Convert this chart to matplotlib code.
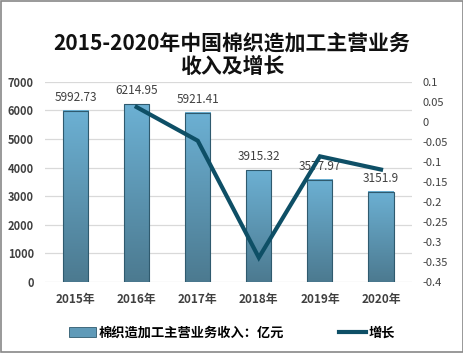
import numpy as np
import matplotlib.pyplot as plt
from matplotlib.patches import Rectangle
from matplotlib.lines import Line2D
from matplotlib.colors import LinearSegmentedColormap

plt.rcParams['font.family'] = ['Noto Sans CJK SC', 'DejaVu Sans']

years = ['2015年', '2016年', '2017年', '2018年', '2019年', '2020年']
revenue = [5992.73, 6214.95, 5921.41, 3915.32, 3577.97, 3151.9]
growth = [None, 0.037, -0.047, -0.339, -0.086, -0.119]

fig = plt.figure(figsize=(4.64, 3.53), dpi=100)
fig.patches.append(Rectangle((0.003, 0.003), 0.994, 0.994, transform=fig.transFigure,
                             fill=False, edgecolor='#888888', linewidth=1.2))

ax = fig.add_axes([0.097, 0.201, 0.79, 0.567])
x = np.arange(len(years))

# bars with vertical gradient
bars = ax.bar(x, revenue, width=0.41, color='none', edgecolor='#2f5a6e', linewidth=0.8, zorder=3)
cmap = LinearSegmentedColormap.from_list('g', ['#4c7a90', '#6cb0d3'])
grad = np.linspace(0, 1, 100).reshape(-1, 1)
for b in bars:
    x0, w, h = b.get_x(), b.get_width(), b.get_height()
    ax.imshow(grad, extent=(x0, x0 + w, 0, h), origin='lower', cmap=cmap,
              aspect='auto', zorder=2)
    ax.text(x0 + w / 2, h + 250, f'{h:g}', ha='center', va='bottom',
            fontsize=8.5, color='#404040', zorder=5)

ax.set_xlim(-0.5, 5.5)
ax.set_ylim(0, 7000)
ax.set_yticks(range(0, 7001, 1000))
ax.set_xticks(x)
ax.set_xticklabels(years, fontsize=8.5, fontweight='bold', color='#404040')
for t in ax.get_yticklabels():
    t.set_fontsize(8)
    t.set_fontweight('bold')
    t.set_color('#404040')
ax.grid(axis='y', color='#d9d9d9', linewidth=0.9, zorder=0)
ax.tick_params(length=0, pad=8)
for s in ax.spines.values():
    s.set_visible(False)

ax2 = ax.twinx()
ax2.plot(x[1:], growth[1:], color='#0e4f66', linewidth=3, zorder=6,
         solid_joinstyle='miter')
ax2.set_ylim(-0.4, 0.1)
yt = np.round(np.arange(-0.4, 0.1001, 0.05), 2)
ax2.set_yticks(yt)
ax2.set_yticklabels([f'{v + 0.0:g}' for v in yt], fontsize=8, color='#404040')
ax2.tick_params(length=0, pad=8)
for s in ax2.spines.values():
    s.set_visible(False)

fig.text(0.5, 0.845, '2015-2020年中国棉织造加工主营业务\n收入及增长', ha='center', va='center',
         fontsize=15, fontweight='bold', linespacing=1.15, color='#111111')

handles = [Rectangle((0, 0), 1, 1, facecolor='#5f9ab8', edgecolor='#2f5a6e', linewidth=0.6),
           Line2D([0], [0], color='#0e4f66', linewidth=3)]
fig.legend(handles, ['棉织造加工主营业务收入：亿元', '增长'], loc='center',
           bbox_to_anchor=(0.5, 0.058), ncol=2, frameon=False, columnspacing=4.2,
           handlelength=2.0, handletextpad=0.2,
           prop={'size': 9.5, 'weight': 'bold'})

fig.savefig('out.png', dpi=100)
